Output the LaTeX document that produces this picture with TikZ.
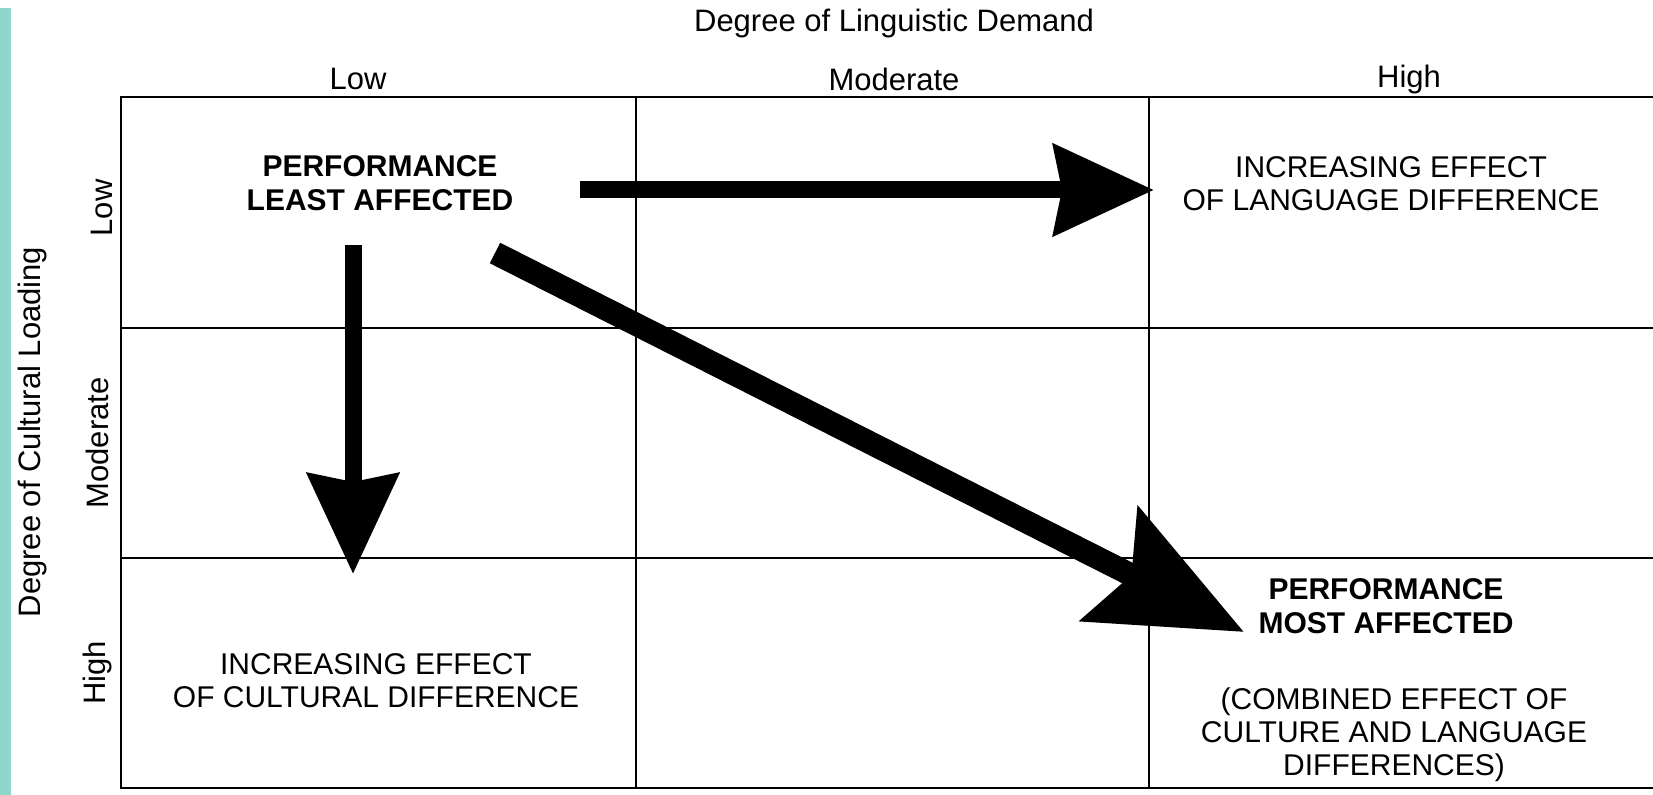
\documentclass[tikz,border=0pt]{standalone}
\usepackage{fontspec}
\setmainfont{Liberation Sans}
\usetikzlibrary{arrows.meta}
\definecolor{tealbar}{RGB}{143,214,205}
\begin{document}
\begin{tikzpicture}[x=0.5pt,y=-0.5pt,
  gridline/.style={line width=1pt},
  frameline/.style={line width=1.4pt},
  lbl/.style={font=\fontsize{15.5}{18}\selectfont, inner sep=0pt},
  celltext/.style={font=\fontsize{15}{16.5}\selectfont, align=center, inner sep=0pt},
  cellbold/.style={font=\fontsize{15}{17}\selectfont\bfseries, align=center, inner sep=0pt},
  thinarrow/.style={line width=8.5pt, -{Stealth[length=50pt,width=45pt,inset=4pt]}},
  bigarrow/.style={line width=11.5pt, -{Stealth[length=75pt,width=63pt,inset=12pt]}},
]
\useasboundingbox (0,0) rectangle (1653,795);
\fill[tealbar] (0,8) rectangle (11,795);

% grid
\draw[frameline] (1653,97) -- (121,97) -- (121,788) -- (1653,788);
\draw[gridline] (121,328) -- (1653,328);
\draw[gridline] (121,558) -- (1653,558);
\draw[gridline] (636,97) -- (636,788);
\draw[gridline] (1149,97) -- (1149,788);

% axis labels
\node[lbl] (title) at (894,23) {Degree of Linguistic Demand};
\node[lbl] (cLow) at (358,79) {Low};
\node[lbl] (cMod) at (894,79) {Moderate};
\node[lbl] (cHigh) at (1409,79) {High};
\node[lbl, rotate=90] (ytitle) at (32,432) {Degree of Cultural Loading};
\node[lbl, rotate=90] (rLow) at (102,208) {Low};
\node[lbl, rotate=90] (rMod) at (97,443) {Moderate};
\node[lbl, rotate=90] (rHigh) at (97,673) {High};

% cell texts
\node[cellbold] (least) at (380,183) {PERFORMANCE\\LEAST AFFECTED};
\node[celltext] (lang) at (1391,184) {INCREASING EFFECT\\OF LANGUAGE DIFFERENCE};
\node[celltext] (cult) at (376,681) {INCREASING EFFECT\\OF CULTURAL DIFFERENCE};
\node[cellbold] (most) at (1386,606) {PERFORMANCE\\MOST AFFECTED};
\node[celltext] (comb) at (1394,735) {(COMBINED EFFECT OF\\CULTURE AND LANGUAGE\\DIFFERENCES)};

% arrow end points
\coordinate (hs) at (580,190);
\coordinate (he) at (1154,190);
\coordinate (vs) at (353,245);
\coordinate (ve) at (353,574);
\coordinate (ds) at (495,253);
\coordinate (de) at (1244,632);

\draw[thinarrow] (hs) -- (he);
\draw[thinarrow] (vs) -- (ve);
\draw[bigarrow] (ds) -- (de);
\end{tikzpicture}
\end{document}
